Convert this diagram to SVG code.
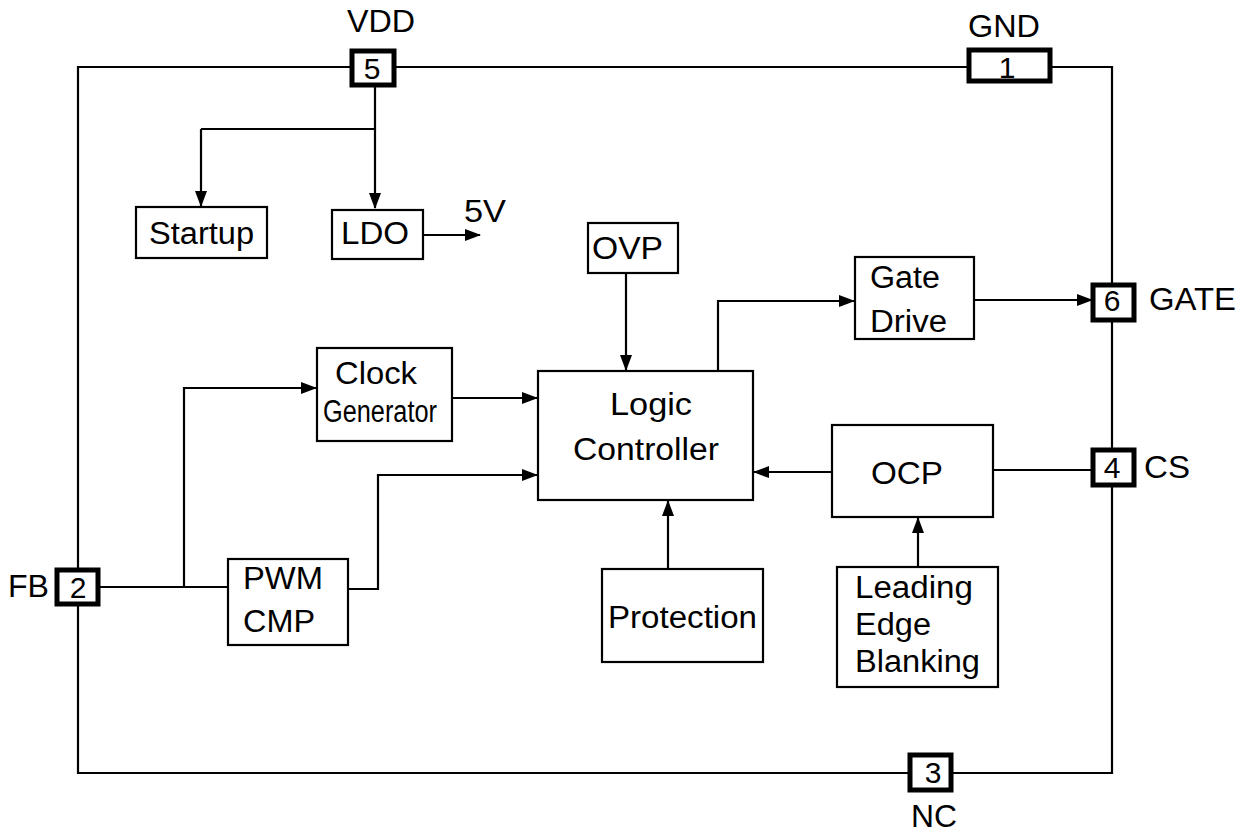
<svg xmlns="http://www.w3.org/2000/svg" width="1249" height="832" viewBox="0 0 1249 832">
<style>
text{font-family:"Liberation Sans",Arial,sans-serif;font-size:31px;fill:#000}
.n{font-size:30px;text-anchor:middle}
.box{fill:#fff;stroke:#000;stroke-width:2.2}
.pin{fill:#fff;stroke:#000;stroke-width:5}
.w{fill:none;stroke:#000;stroke-width:2.2}
.a{fill:none;stroke:#000;stroke-width:2.2;marker-end:url(#ah)}
</style>
<defs>
<marker id="ah" markerWidth="16" markerHeight="12" refX="15" refY="6" orient="auto" markerUnits="userSpaceOnUse">
<path d="M0,0 L16,6 L0,12 Z" fill="#000"/>
</marker>
</defs>
<rect width="1249" height="832" fill="#fff"/>
<g id="connectors">
<path class="w" d="M78,570 V67 H352 M394,67 H969 M1050,67 H1112 V285 M1112,320 V450 M1112,485 V773 H951 M910,773 H78 V604"/>
<path class="w" d="M375,86 V129 H201"/>
<path class="a" d="M375,129 V208"/>
<path class="a" d="M201,129 V206"/>
<path class="a" d="M423,235 H480"/>
<path class="w" d="M98,587 H228"/>
<path class="a" d="M184,587 V388 H316"/>
<path class="a" d="M452,398 H537"/>
<path class="a" d="M348,589 H378 V475 H537"/>
<path class="a" d="M626,273 V370"/>
<path class="a" d="M718,371 V301 H854"/>
<path class="a" d="M974,300 H1092"/>
<path class="w" d="M993,470 H1093"/>
<path class="a" d="M832,472 H754"/>
<path class="a" d="M668,569 V501"/>
<path class="a" d="M918,567 V518"/>
</g>
<g id="pin5"><rect class="pin" x="352" y="51" width="42" height="34"/><text class="n" x="372" y="79">5</text><text x="347" y="32" textLength="68" lengthAdjust="spacingAndGlyphs">VDD</text></g>
<g id="pin1"><rect class="pin" x="969" y="50" width="81" height="31"/><text class="n" x="1007" y="78">1</text><text x="968" y="37" textLength="72" lengthAdjust="spacingAndGlyphs">GND</text></g>
<g id="pin6"><rect class="pin" x="1093" y="285" width="41" height="35"/><text class="n" x="1112" y="311">6</text><text x="1149" y="310" textLength="87" lengthAdjust="spacingAndGlyphs">GATE</text></g>
<g id="pin4"><rect class="pin" x="1093" y="450" width="41" height="35"/><text class="n" x="1112" y="478">4</text><text x="1144" y="478" textLength="46" lengthAdjust="spacingAndGlyphs">CS</text></g>
<g id="pin3"><rect class="pin" x="910" y="755" width="41" height="35"/><text class="n" x="933" y="783">3</text><text x="911" y="827" textLength="46" lengthAdjust="spacingAndGlyphs">NC</text></g>
<g id="pin2"><rect class="pin" x="57" y="570" width="41" height="34"/><text class="n" x="78" y="598">2</text><text x="8" y="597" textLength="41" lengthAdjust="spacingAndGlyphs">FB</text></g>
<g id="startup"><rect class="box" x="136" y="207" width="131" height="51"/><text x="149" y="244" textLength="105" lengthAdjust="spacingAndGlyphs">Startup</text></g>
<g id="ldo"><rect class="box" x="332" y="210" width="91" height="49"/><text x="341" y="244" textLength="68" lengthAdjust="spacingAndGlyphs">LDO</text></g>
<g id="v5"><text x="464" y="222" textLength="42" lengthAdjust="spacingAndGlyphs">5V</text></g>
<g id="ovp"><rect class="box" x="588" y="223" width="90" height="50"/><text x="592" y="259" textLength="71" lengthAdjust="spacingAndGlyphs">OVP</text></g>
<g id="clock"><rect class="box" x="317" y="348" width="135" height="93"/><text x="335" y="384" textLength="82" lengthAdjust="spacingAndGlyphs">Clock</text><text x="323" y="422" textLength="114" lengthAdjust="spacingAndGlyphs">Generator</text></g>
<g id="logic"><rect class="box" x="538" y="371" width="215" height="129"/><text x="610" y="415" textLength="82" lengthAdjust="spacingAndGlyphs">Logic</text><text x="573" y="460" textLength="146" lengthAdjust="spacingAndGlyphs">Controller</text></g>
<g id="gatedrive"><rect class="box" x="855" y="257" width="119" height="82"/><text x="870" y="288" textLength="70" lengthAdjust="spacingAndGlyphs">Gate</text><text x="870" y="332" textLength="77" lengthAdjust="spacingAndGlyphs">Drive</text></g>
<g id="pwm"><rect class="box" x="228" y="559" width="120" height="86"/><text x="243" y="589" textLength="80" lengthAdjust="spacingAndGlyphs">PWM</text><text x="243" y="632" textLength="72" lengthAdjust="spacingAndGlyphs">CMP</text></g>
<g id="ocp"><rect class="box" x="832" y="425" width="161" height="92"/><text x="871" y="484" textLength="72" lengthAdjust="spacingAndGlyphs">OCP</text></g>
<g id="protection"><rect class="box" x="602" y="569" width="161" height="93"/><text x="608" y="628" textLength="149" lengthAdjust="spacingAndGlyphs">Protection</text></g>
<g id="leb"><rect class="box" x="837" y="567" width="161" height="120"/><text x="855" y="598" textLength="118" lengthAdjust="spacingAndGlyphs">Leading</text><text x="855" y="635" textLength="76" lengthAdjust="spacingAndGlyphs">Edge</text><text x="855" y="672" textLength="125" lengthAdjust="spacingAndGlyphs">Blanking</text></g>
</svg>
